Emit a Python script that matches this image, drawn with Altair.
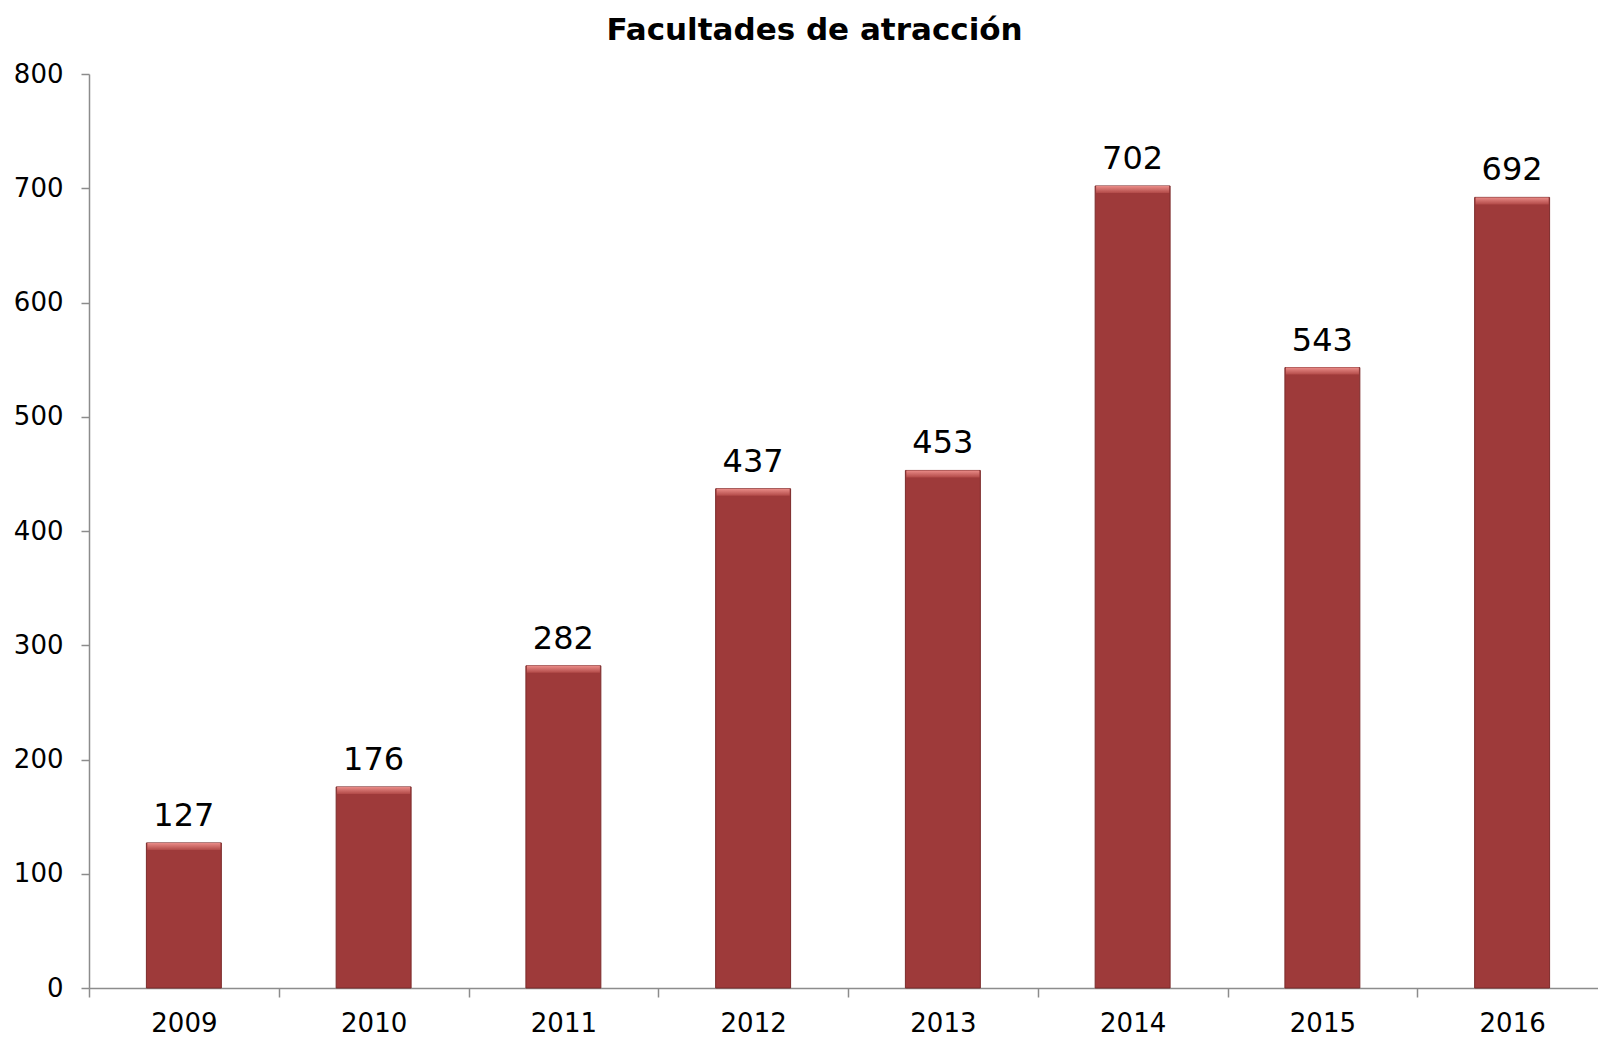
import altair as alt
import pandas as pd

years = ["2009", "2010", "2011", "2012", "2013", "2014", "2015", "2016"]
values = [127, 176, 282, 437, 453, 702, 543, 692]

df = pd.DataFrame({"year": years, "value": values})

FONT = "DejaVu Sans"

x = alt.X("year:N", sort=years, title=None,
          scale=alt.Scale(paddingInner=0, paddingOuter=0, range=[0, 1518]),
          axis=alt.Axis(labelAngle=0, labelFontSize=26, labelColor="black", labelFont=FONT,
                        tickBand="extent", tickSize=9, tickColor="#8c8c8c",
                        domainColor="#8c8c8c", labelPadding=13, domainWidth=1.5, tickWidth=1.5))
y = alt.Y("value:Q", title=None,
          scale=alt.Scale(domain=[0, 800], nice=False),
          axis=alt.Axis(values=[0, 100, 200, 300, 400, 500, 600, 700, 800], grid=False,
                        labelFontSize=26, labelColor="black", labelFont=FONT,
                        tickSize=8, tickColor="#8c8c8c", domainColor="#8c8c8c",
                        labelPadding=18, domainWidth=1.5, tickWidth=1.5))

base = alt.Chart(df)

bars = base.mark_bar(width=alt.RelativeBandSize(0.395), color="#9e3a3a",
                     stroke="#7c2b2b", strokeWidth=1).encode(x=x, y=y)

bevel_fill = alt.Gradient(
    gradient="linear", x1=0, y1=0, x2=0, y2=1,
    stops=[alt.GradientStop(color="#ea8c88", offset=0),
           alt.GradientStop(color="#b24a48", offset=1)],
)
top_bevel = base.mark_bar(width=alt.RelativeBandSize(0.385), color=bevel_fill,
                          y2Offset=7).encode(x=x, y=y, y2="value:Q")

labels = base.mark_text(font=FONT, fontSize=32, color="black", baseline="alphabetic",
                        dy=-17).encode(x=x, y=y, text="value:Q")

chart = alt.layer(bars, top_bevel, labels).properties(
    width=1509, height=914,
    autosize=alt.AutoSizeParams(type="none"),
    padding={"left": 81, "top": 66, "right": 0, "bottom": 48},
    title=alt.TitleParams("Facultades de atracción", font=FONT, fontSize=31,
                          fontWeight="bold", color="black", anchor="middle",
                          offset=14, dx=-29),
).configure_view(stroke=None)

chart.save("out.html", embed_options={"renderer": "svg", "actions": False})
